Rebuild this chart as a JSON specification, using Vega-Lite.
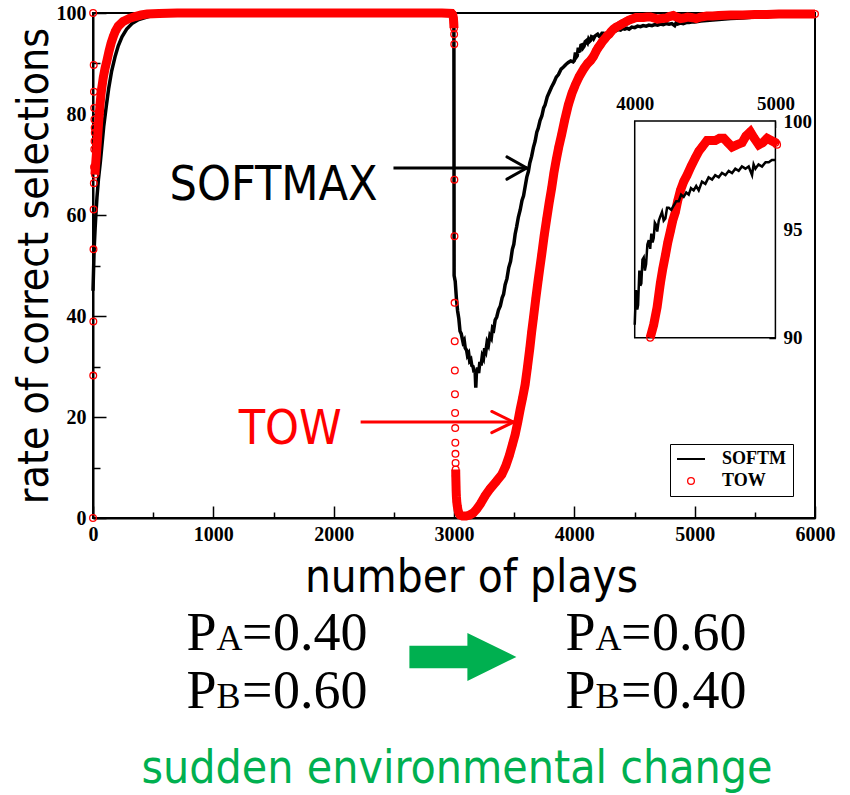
{
  "$schema": "https://vega.github.io/schema/vega-lite/v6.json",
  "background": "white",
  "padding": {"left": 11, "top": -6, "right": 0, "bottom": 6},
  "config": {
    "view": {"stroke": "black", "strokeWidth": 2},
    "axis": {
      "grid": false, "domainColor": "black", "domainWidth": 2, "tickColor": "black", "tickWidth": 1.5,
      "labelColor": "black", "labelFont": "Liberation Serif", "labelFontWeight": "bold", "labelFontSize": 20,
      "labelFlush": false, "labelOverlap": false,
      "titleColor": "black", "titleFont": "DejaVu Sans Condensed, DejaVu Sans", "titleFontWeight": "normal", "titleFontSize": 45
    },
    "text": {"font": "DejaVu Sans Condensed, DejaVu Sans"}
  },
  "datasets": {
    "softmax": [
      {"t":0,"v":45},{"t":4,"v":48.5},{"t":8,"v":52},{"t":12,"v":54.5},{"t":18,"v":57.5},{"t":25,"v":60.5},{"t":33,"v":63.5},{"t":45,"v":67},{"t":61,"v":70.5},{"t":75,"v":74},{"t":89,"v":77.5},{"t":110,"v":81.5},{"t":130,"v":85},{"t":155,"v":88.5},{"t":185,"v":91.5},{"t":210,"v":93.5},{"t":241,"v":95.3},{"t":280,"v":96.8},{"t":324,"v":97.9},{"t":380,"v":98.7},{"t":462,"v":99.3},{"t":550,"v":99.6},{"t":650,"v":99.9},{"t":800,"v":100},{"t":1500,"v":100},{"t":2999,"v":100},
      {"t":3001,"v":48},{"t":3010,"v":46.9},{"t":3020,"v":43.5},{"t":3030,"v":41},{"t":3040,"v":39.5},{"t":3050,"v":37},{"t":3060,"v":36.5},{"t":3075,"v":34.8},{"t":3085,"v":35.2},{"t":3093,"v":33.7},{"t":3105,"v":33.2},{"t":3112,"v":32.2},{"t":3122,"v":32.6},{"t":3130,"v":31.1},{"t":3140,"v":31.4},{"t":3148,"v":30.2},{"t":3158,"v":30.0},{"t":3167,"v":28.8},{"t":3175,"v":29.4},{"t":3181,"v":25.8},{"t":3186,"v":28.6},{"t":3195,"v":29.8},{"t":3205,"v":28.7},{"t":3215,"v":30.9},{"t":3225,"v":30.2},{"t":3235,"v":32.1},{"t":3245,"v":31.6},{"t":3255,"v":33.6},{"t":3265,"v":33.0},{"t":3275,"v":34.8},{"t":3286,"v":34.2},{"t":3298,"v":36.1},{"t":3310,"v":35.6},{"t":3320,"v":37.6},{"t":3330,"v":37.3},{"t":3342,"v":39.2},{"t":3355,"v":39.8},{"t":3370,"v":41.2},{"t":3385,"v":42.0},{"t":3400,"v":43.6},{"t":3412,"v":44.3},{"t":3425,"v":46.2},{"t":3440,"v":47.4},{"t":3455,"v":49.6},{"t":3470,"v":50.8},{"t":3485,"v":53.2},{"t":3497,"v":54.2},{"t":3508,"v":56.2},{"t":3520,"v":57.6},{"t":3535,"v":59.6},{"t":3550,"v":61.0},{"t":3565,"v":62.9},{"t":3578,"v":63.8},{"t":3591,"v":65.6},{"t":3605,"v":67.5},{"t":3618,"v":68.6},{"t":3630,"v":70.3},{"t":3645,"v":71.6},{"t":3660,"v":73.4},{"t":3674,"v":74.6},{"t":3688,"v":76.4},{"t":3700,"v":77.2},{"t":3715,"v":78.7},{"t":3730,"v":79.6},{"t":3745,"v":81.2},{"t":3757,"v":81.8},{"t":3775,"v":83.4},{"t":3790,"v":84.2},{"t":3810,"v":85.3},{"t":3830,"v":86.2},{"t":3850,"v":87.3},{"t":3868,"v":87.8},{"t":3890,"v":88.9},{"t":3910,"v":89.3},{"t":3930,"v":89.8},{"t":3950,"v":90.2},{"t":3970,"v":90.5},{"t":3990,"v":90.3},
      {"t":4000,"v":90.6},{"t":4009,"v":92.2},{"t":4018,"v":91.3},{"t":4024,"v":91.5},{"t":4033,"v":93.1},{"t":4040,"v":92.4},{"t":4047,"v":92.5},{"t":4055,"v":93.6},{"t":4064,"v":93.7},{"t":4072,"v":93.1},{"t":4081,"v":93.4},{"t":4090,"v":94.3},{"t":4100,"v":94.5},{"t":4110,"v":94.1},{"t":4118,"v":94.8},{"t":4127,"v":94.4},{"t":4135,"v":94.6},{"t":4143,"v":95.3},{"t":4152,"v":95.2},{"t":4160,"v":94.9},{"t":4171,"v":95.4},{"t":4182,"v":95.6},{"t":4194,"v":95.8},{"t":4206,"v":95.4},{"t":4218,"v":95.5},{"t":4230,"v":96.0},{"t":4242,"v":96.0},{"t":4260,"v":95.9},{"t":4277,"v":96.1},{"t":4295,"v":96.3},{"t":4313,"v":96.3},{"t":4330,"v":96.6},{"t":4348,"v":96.5},{"t":4366,"v":96.7},{"t":4384,"v":96.6},{"t":4400,"v":96.9},{"t":4419,"v":96.8},{"t":4437,"v":97.0},{"t":4455,"v":96.8},{"t":4478,"v":97.2},{"t":4502,"v":97.1},{"t":4525,"v":97.4},{"t":4550,"v":97.3},{"t":4572,"v":97.5},{"t":4597,"v":97.4},{"t":4620,"v":97.6},{"t":4645,"v":97.5},{"t":4668,"v":97.7},{"t":4692,"v":97.6},{"t":4715,"v":97.8},{"t":4739,"v":97.7},{"t":4762,"v":97.9},{"t":4787,"v":97.8},{"t":4810,"v":97.9},{"t":4834,"v":97.5},{"t":4845,"v":98.0},{"t":4858,"v":97.8},{"t":4880,"v":98.0},{"t":4905,"v":97.9},{"t":4930,"v":98.1},{"t":4953,"v":98.1},{"t":4975,"v":98.2},{"t":5000,"v":98.2},
      {"t":5050,"v":98.4},{"t":5100,"v":98.5},{"t":5200,"v":98.7},{"t":5300,"v":98.9},{"t":5400,"v":99.0},{"t":5500,"v":99.2},{"t":5600,"v":99.3},{"t":5700,"v":99.4},{"t":5800,"v":99.5},{"t":5900,"v":99.5},{"t":6000,"v":99.6}
    ],
    "tow": [
      {"t":0,"v":0},{"t":1,"v":100},{"t":2,"v":28.2},{"t":3,"v":38.9},{"t":4,"v":53.2},{"t":5,"v":61.1},{"t":6,"v":89.7},{"t":7,"v":66.3},{"t":8,"v":84.4},{"t":9,"v":69.5},{"t":10,"v":81.2},{"t":11,"v":73.0},{"t":12,"v":78.9},{"t":13,"v":74.6},{"t":14,"v":77.3},{"t":15,"v":76.3},
      {"t":16,"v":68.0},{"t":20,"v":69.5},{"t":25,"v":71.0},{"t":30,"v":72.6},{"t":38,"v":75.3},{"t":45,"v":77.8},{"t":53,"v":80.2},{"t":61,"v":82.6},{"t":72,"v":85.0},{"t":85,"v":87.2},{"t":100,"v":89.0},{"t":116,"v":90.6},{"t":133,"v":92.4},{"t":150,"v":94.0},{"t":168,"v":95.3},{"t":186,"v":96.4},{"t":210,"v":97.4},{"t":250,"v":98.3},{"t":300,"v":98.9},{"t":350,"v":99.3},{"t":400,"v":99.6},{"t":450,"v":99.8},{"t":550,"v":99.9},{"t":700,"v":100},{"t":1000,"v":100},{"t":1500,"v":100},{"t":2000,"v":100},{"t":2500,"v":100},{"t":2900,"v":100},{"t":2980,"v":99.9},{"t":2990,"v":99.6},{"t":2995,"v":99.0},{"t":2998,"v":98.0},{"t":3000,"v":97.0},
      {"t":3001,"v":95.8},{"t":3002,"v":93.8},{"t":3003,"v":67.0},{"t":3004,"v":55.8},{"t":3005,"v":42.6},{"t":3006,"v":35.0},{"t":3007,"v":29.2},{"t":3008,"v":24.5},{"t":3009,"v":20.8},{"t":3010,"v":17.8},{"t":3011,"v":14.9},{"t":3012,"v":12.7},{"t":3013,"v":10.9},
      {"t":3014,"v":9.6},{"t":3015,"v":8.3},{"t":3016,"v":7.3},{"t":3017,"v":6.3},{"t":3018,"v":5.3},{"t":3020,"v":4.2},{"t":3023,"v":3.2},{"t":3027,"v":2.4},{"t":3033,"v":1.6},{"t":3040,"v":1.0},{"t":3050,"v":0.6},{"t":3070,"v":0.4},{"t":3100,"v":0.4},{"t":3130,"v":0.6},{"t":3160,"v":1.0},{"t":3190,"v":1.8},{"t":3220,"v":2.8},{"t":3259,"v":4.4},{"t":3300,"v":5.8},{"t":3350,"v":7.2},{"t":3397,"v":8.6},{"t":3430,"v":10.3},{"t":3460,"v":12.4},{"t":3485,"v":14.5},{"t":3508,"v":16.5},{"t":3530,"v":19.0},{"t":3550,"v":21.5},{"t":3570,"v":23.8},{"t":3591,"v":26.4},{"t":3610,"v":29.8},{"t":3630,"v":33.6},{"t":3645,"v":36.8},{"t":3660,"v":39.6},{"t":3680,"v":43.5},{"t":3700,"v":47.2},{"t":3715,"v":49.8},{"t":3729,"v":52.2},{"t":3750,"v":56.0},{"t":3770,"v":59.2},{"t":3790,"v":62.3},{"t":3812,"v":65.4},{"t":3830,"v":68.3},{"t":3850,"v":71.0},{"t":3870,"v":73.4},{"t":3895,"v":76.0},{"t":3920,"v":78.8},{"t":3950,"v":81.8},{"t":3980,"v":84.1},{"t":4007,"v":85.7},{"t":4040,"v":87.4},{"t":4080,"v":89.0},{"t":4110,"v":90.0},{"t":4135,"v":90.6},{"t":4159,"v":91.4},{"t":4182,"v":92.5},{"t":4200,"v":93.2},{"t":4218,"v":93.8},{"t":4235,"v":94.4},{"t":4253,"v":94.9},{"t":4270,"v":95.4},{"t":4289,"v":95.8},{"t":4305,"v":96.3},{"t":4325,"v":96.8},{"t":4348,"v":97.2},{"t":4372,"v":97.5},{"t":4400,"v":97.9},{"t":4431,"v":98.3},{"t":4455,"v":98.6},{"t":4479,"v":98.8},{"t":4514,"v":99.1},{"t":4545,"v":99.1},{"t":4573,"v":99.1},{"t":4603,"v":99.2},{"t":4633,"v":99.2},{"t":4662,"v":99.0},{"t":4692,"v":98.8},{"t":4725,"v":98.9},{"t":4763,"v":99.0},{"t":4790,"v":99.3},{"t":4822,"v":99.5},{"t":4850,"v":99.2},{"t":4882,"v":98.9},{"t":4910,"v":99.0},{"t":4941,"v":99.2},{"t":4970,"v":99.1},{"t":5000,"v":99.0},{"t":5012,"v":98.9},{"t":5050,"v":99.2},{"t":5100,"v":99.4},{"t":5150,"v":99.4},{"t":5200,"v":99.5},{"t":5300,"v":99.6},{"t":5400,"v":99.6},{"t":5500,"v":99.7},{"t":5600,"v":99.7},{"t":5700,"v":99.8},{"t":5800,"v":99.8},{"t":5900,"v":99.8},{"t":6000,"v":99.8}
    ]
  },
  "bounds": "flush",
  "spacing": 82,
  "resolve": {"legend": {"color": "independent"}},
  "vconcat": [
    {
      "width": 722,
      "height": 505,
      "resolve": {"scale": {"x": "independent", "y": "independent"}},
      "layer": [
        {
          "layer": [
            {
              "data": {"name": "softmax"},
              "mark": {"type": "line", "strokeWidth": 3.5},
              "encoding": {
                "x": {"field": "t", "type": "quantitative", "title": "number of plays", "scale": {"domain": [0, 6000], "nice": false, "zero": false},
                  "axis": {"values": [0,500,1000,1500,2000,2500,3000,3500,4000,4500,5000,5500,6000], "format": "d",
                    "tickSize": {"condition": {"test": "datum.value % 1000 === 0", "value": -12}, "value": -6},
                    "labelPadding": 18, "labelExpr": "datum.value % 1000 === 0 ? datum.label : ''",
                    "titlePadding": 5, "titleX": 378, "titleFontSize": 45.5}},
                "y": {"field": "v", "type": "quantitative", "title": "rate of correct selections", "scale": {"domain": [0, 100], "nice": false, "zero": false},
                  "axis": {"values": [0,10,20,30,40,50,60,70,80,90,100], "format": "d",
                    "tickSize": {"condition": {"test": "datum.value % 20 === 0", "value": -13}, "value": -7},
                    "labelPadding": 20, "labelExpr": "datum.value % 20 === 0 ? datum.label : ''",
                    "titlePadding": 0, "titleFontSize": 42.5}},
                "color": {"datum": "SOFTM", "type": "nominal",
                  "scale": {"domain": ["SOFTM", "TOW"], "range": ["black", "#ff0000"]},
                  "legend": {
                    "title": null, "orient": "bottom-right", "offset": 22,
                    "strokeColor": "black", "fillColor": "white", "padding": 6, "cornerRadius": 0,
                    "labelFont": "Liberation Serif", "labelFontWeight": "bold", "labelFontSize": 18, "labelColor": "black",
                    "labelOffset": 22, "rowPadding": 4, "symbolSize": 324, "symbolOffset": 6,
                    "encode": {"symbols": {"update": {
                      "shape": {"signal": "datum.value === 'SOFTM' ? 'stroke' : 'circle'"},
                      "size": {"signal": "datum.value === 'SOFTM' ? 784 : 45"},
                      "stroke": {"signal": "datum.value === 'SOFTM' ? 'black' : '#ff0000'"},
                      "strokeWidth": {"signal": "datum.value === 'SOFTM' ? 2 : 1.3"},
                      "fill": {"value": "transparent"},
                      "opacity": {"value": 1}
                    }}}
                  }}
              }
            },
            {
              "data": {"name": "tow"},
              "transform": [
                {"filter": "datum.t >= 16 && (datum.t <= 3000 || datum.t >= 3014)"},
                {"calculate": "datum.t <= 3000 ? 'before' : 'after'", "as": "stage"}
              ],
              "mark": {"type": "line", "strokeWidth": 9},
              "encoding": {
                "x": {"field": "t", "type": "quantitative", "title": "number of plays", "scale": {"domain": [0, 6000], "nice": false, "zero": false}},
                "y": {"field": "v", "type": "quantitative", "title": "rate of correct selections", "scale": {"domain": [0, 100], "nice": false, "zero": false}},
                "color": {"datum": "TOW", "type": "nominal"},
                "detail": {"field": "stage"}
              }
            },
            {
              "data": {"name": "tow"},
              "mark": {"type": "point", "shape": "circle", "filled": false, "size": 45, "strokeWidth": 1.3, "opacity": 1},
              "encoding": {
                "x": {"field": "t", "type": "quantitative", "title": "number of plays", "scale": {"domain": [0, 6000], "nice": false, "zero": false}},
                "y": {"field": "v", "type": "quantitative", "title": "rate of correct selections", "scale": {"domain": [0, 100], "nice": false, "zero": false}},
                "color": {"datum": "TOW", "type": "nominal"}
              }
            },
            {
              "data": {"values": [{}]},
              "mark": {"type": "text", "text": "SOFTMAX", "fontSize": 48, "align": "center", "baseline": "middle", "color": "black"},
              "encoding": {"x": {"datum": 1501, "title": "number of plays"}, "y": {"datum": 65.7, "title": "rate of correct selections"}}
            },
            {
              "data": {"values": [{}]},
              "mark": {"type": "text", "text": "TOW", "fontSize": 48, "align": "center", "baseline": "middle", "color": "#ff0000"},
              "encoding": {"x": {"datum": 1639, "title": "number of plays"}, "y": {"datum": 17.5, "title": "rate of correct selections"}}
            },
            {
              "data": {"values": [{}]},
              "mark": {"type": "rule", "color": "black", "strokeWidth": 3},
              "encoding": {"x": {"datum": 2497, "title": "number of plays"}, "x2": {"datum": 3605}, "y": {"datum": 69.3, "title": "rate of correct selections"}}
            },
            {
              "data": {"values": [{}]},
              "mark": {"type": "rule", "color": "black", "strokeWidth": 3, "strokeCap": "round"},
              "encoding": {"x": {"datum": 3440, "title": "number of plays"}, "x2": {"datum": 3605}, "y": {"datum": 71.5, "title": "rate of correct selections"}, "y2": {"datum": 69.3}}
            },
            {
              "data": {"values": [{}]},
              "mark": {"type": "rule", "color": "black", "strokeWidth": 3, "strokeCap": "round"},
              "encoding": {"x": {"datum": 3440, "title": "number of plays"}, "x2": {"datum": 3605}, "y": {"datum": 67.1, "title": "rate of correct selections"}, "y2": {"datum": 69.3}}
            },
            {
              "data": {"values": [{}]},
              "mark": {"type": "rule", "color": "#ff0000", "strokeWidth": 3},
              "encoding": {"x": {"datum": 2224, "title": "number of plays"}, "x2": {"datum": 3494}, "y": {"datum": 19.0, "title": "rate of correct selections"}}
            },
            {
              "data": {"values": [{}]},
              "mark": {"type": "rule", "color": "#ff0000", "strokeWidth": 3, "strokeCap": "round"},
              "encoding": {"x": {"datum": 3314, "title": "number of plays"}, "x2": {"datum": 3494}, "y": {"datum": 21.1, "title": "rate of correct selections"}, "y2": {"datum": 19.0}}
            },
            {
              "data": {"values": [{}]},
              "mark": {"type": "rule", "color": "#ff0000", "strokeWidth": 3, "strokeCap": "round"},
              "encoding": {"x": {"datum": 3314, "title": "number of plays"}, "x2": {"datum": 3494}, "y": {"datum": 16.9, "title": "rate of correct selections"}, "y2": {"datum": 19.0}}
            }
          ]
        },
        {
          "layer": [
            {
              "data": {"values": [{"t": 4000, "t2": 5000, "v": 90, "v2": 100}]},
              "mark": {"type": "rect", "fill": "white", "stroke": "black", "strokeWidth": 1.5},
              "encoding": {
                "x": {"field": "t", "type": "quantitative", "title": null, "scale": {"domain": [149.8, 5281.4], "nice": false, "zero": false},
                  "axis": {"orient": "top", "offset": -108, "domain": false,
                    "values": [4000,4100,4200,4300,4400,4500,4600,4700,4800,4900,5000], "format": "d",
                    "tickSize": -6.5, "labelPadding": 14.5, "labelFontSize": 19,
                    "labelExpr": "datum.value === 4000 || datum.value === 5000 ? datum.label : ''"}},
                "x2": {"field": "t2"},
                "y": {"field": "v", "type": "quantitative", "title": null, "scale": {"domain": [81.68, 104.984], "nice": false, "zero": false},
                  "axis": {"orient": "right", "offset": -39.6, "domain": false,
                    "values": [90,90.8333,91.6667,92.5,93.3333,94.1667,95,95.8333,96.6667,97.5,98.3333,99.1667,100], "format": "d",
                    "tickSize": -6.5, "labelPadding": 14, "labelFontSize": 19,
                    "labelExpr": "datum.value === 90 || datum.value === 95 || datum.value === 100 ? datum.label : ''"}},
                "y2": {"field": "v2"}
              }
            },
            {
              "data": {"name": "tow"},
              "transform": [{"filter": "datum.t >= 4110 && datum.t <= 5012"}],
              "mark": {"type": "line", "color": "#ff0000", "strokeWidth": 9},
              "encoding": {
                "x": {"field": "t", "type": "quantitative", "title": null, "scale": {"domain": [149.8, 5281.4], "nice": false, "zero": false}},
                "y": {"field": "v", "type": "quantitative", "title": null, "scale": {"domain": [81.68, 104.984], "nice": false, "zero": false}}
              }
            },
            {
              "data": {"name": "tow"},
              "transform": [{"filter": "datum.t >= 4110 && datum.t <= 5012"}],
              "mark": {"type": "point", "shape": "circle", "filled": false, "color": "#ff0000", "size": 45, "strokeWidth": 1.3, "opacity": 1},
              "encoding": {
                "x": {"field": "t", "type": "quantitative", "title": null, "scale": {"domain": [149.8, 5281.4], "nice": false, "zero": false}},
                "y": {"field": "v", "type": "quantitative", "title": null, "scale": {"domain": [81.68, 104.984], "nice": false, "zero": false}}
              }
            },
            {
              "data": {"name": "softmax"},
              "transform": [{"filter": "datum.t >= 4000 && datum.t <= 5000"}],
              "mark": {"type": "line", "color": "black", "strokeWidth": 2.5},
              "encoding": {
                "x": {"field": "t", "type": "quantitative", "title": null, "scale": {"domain": [149.8, 5281.4], "nice": false, "zero": false}},
                "y": {"field": "v", "type": "quantitative", "title": null, "scale": {"domain": [81.68, 104.984], "nice": false, "zero": false}}
              }
            }
          ]
        }
      ]
    },
    {
      "width": 722,
      "height": 130,
      "view": {"stroke": null},
      "data": {"values": [
        {"stage": "before", "arm": "A", "p": 0.40},
        {"stage": "before", "arm": "B", "p": 0.60},
        {"stage": "after", "arm": "A", "p": 0.60},
        {"stage": "after", "arm": "B", "p": 0.40}
      ]},
      "title": {"text": "sudden environmental change", "orient": "bottom", "anchor": "middle", "color": "#00B050",
        "font": "DejaVu Sans Condensed, DejaVu Sans", "fontSize": 46, "fontWeight": "normal", "offset": 17, "dx": 3},
      "layer": [
        {"mark": {"type": "text", "text": "P", "align": "left", "baseline": "alphabetic", "dx": -88.5, "font": "Liberation Serif", "fontSize": 54, "color": "black"},
         "encoding": {
           "x": {"field": "stage", "type": "nominal", "scale": {"type": "point", "domain": ["before", "change", "after"], "range": [182, 561], "padding": 0}, "axis": null},
           "y": {"field": "arm", "type": "nominal", "scale": {"type": "point", "domain": ["A", "B"], "range": [50, 108], "padding": 0}, "axis": null}}},
        {"mark": {"type": "text", "align": "left", "baseline": "alphabetic", "dx": -58.5, "font": "Liberation Serif", "fontSize": 36, "color": "black"},
         "encoding": {"x": {"field": "stage", "type": "nominal"}, "y": {"field": "arm", "type": "nominal"}, "text": {"field": "arm"}}},
        {"mark": {"type": "text", "text": "=", "align": "left", "baseline": "alphabetic", "dx": -33, "font": "Liberation Serif", "fontSize": 54, "color": "black"},
         "encoding": {"x": {"field": "stage", "type": "nominal"}, "y": {"field": "arm", "type": "nominal"}}},
        {"mark": {"type": "text", "align": "left", "baseline": "alphabetic", "dx": -2, "font": "Liberation Serif", "fontSize": 54, "color": "black"},
         "encoding": {"x": {"field": "stage", "type": "nominal"}, "y": {"field": "arm", "type": "nominal"}, "text": {"field": "p", "type": "quantitative", "format": ".2f"}}},
        {
          "data": {"values": [{"stage": "change"}]},
          "mark": {"type": "point", "shape": "M-1.03,-0.08L0.054,-0.08L0.054,-0.319L0.97,0.13L0.054,0.579L0.054,0.34L-1.03,0.34Z", "filled": true, "color": "#00B050", "size": 11449, "opacity": 1, "strokeWidth": 0},
          "encoding": {"x": {"field": "stage", "type": "nominal"}, "y": {"datum": "A", "type": "nominal"}}
        }
      ]
    }
  ]
}
